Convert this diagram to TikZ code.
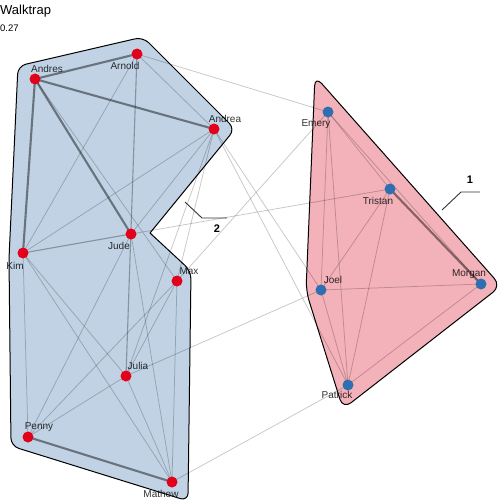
\documentclass[tikz,border=0pt]{standalone}
\usepackage{fontspec}
\setmainfont{Liberation Sans}
\pgfdeclarelayer{hull}
\pgfdeclarelayer{edges}
\pgfsetlayers{hull,edges,main}
\definecolor{hullblue}{RGB}{192,210,228}
\definecolor{hullpink}{RGB}{243,177,185}
\definecolor{vred}{RGB}{227,0,27}
\definecolor{vblue}{RGB}{48,110,178}
\tikzset{
  vtx/.style={circle, fill=#1, draw=none, minimum size=11pt, inner sep=0pt},
  lbl/.style={font=\fontsize{10}{12}\selectfont, text=black, text opacity=0.8, inner sep=0pt},
  thickedge/.style={line width=2.1pt, draw=black, draw opacity=0.45},
  medge/.style={line width=1.1pt, draw=black, draw opacity=0.3},
  tedge/.style={line width=0.75pt, draw=black, draw opacity=0.22},
  hullline/.style={draw=black, line width=1pt, line join=round},
  leader/.style={draw=black!80, line width=0.9pt},
  callout/.style={font=\bfseries\fontsize{11}{13}\selectfont, inner sep=0pt}
}
\begin{document}
\begin{tikzpicture}[x=1pt,y=-1pt]
\useasboundingbox (0,0) rectangle (504,504);
% title
\node[anchor=west, font=\fontsize{13}{15}\selectfont, inner sep=0pt] (title) at (0,11) {Walktrap};
\node[anchor=west, font=\fontsize{9.5}{11}\selectfont, inner sep=0pt] (sub) at (0,28) {0.27};
% vertices
\node[vtx=vred] (andres) at (35,79) {};
\node[vtx=vred] (arnold) at (137,54) {};
\node[vtx=vred] (andrea) at (214,129) {};
\node[vtx=vred] (jude) at (131,234) {};
\node[vtx=vred] (kim) at (23,253) {};
\node[vtx=vred] (max) at (177,281) {};
\node[vtx=vred] (julia) at (126,376) {};
\node[vtx=vred] (penny) at (28,437) {};
\node[vtx=vred] (mathew) at (172,482) {};
\node[vtx=vblue] (emery) at (328,112) {};
\node[vtx=vblue] (tristan) at (390,189) {};
\node[vtx=vblue] (joel) at (321,290) {};
\node[vtx=vblue] (morgan) at (481,284) {};
\node[vtx=vblue] (patrick) at (348,385) {};
% labels
\node[lbl] (Landres) at (47,69) {Andres};
\node[lbl] (Larnold) at (125,66) {Arnold};
\node[lbl] (Landrea) at (225,119) {Andrea};
\node[lbl] (Ljude) at (119,246) {Jude};
\node[lbl] (Lkim) at (15,266) {Kim};
\node[lbl] (Lmax) at (189,271) {Max};
\node[lbl] (Ljulia) at (138,366) {Julia};
\node[lbl] (Lpenny) at (39,427) {Penny};
\node[lbl] (Lmathew) at (161,494) {Mathew};
\node[lbl] (Lemery) at (316,124) {Emery};
\node[lbl] (Ltristan) at (378,201) {Tristan};
\node[lbl] (Ljoel) at (333,280) {Joel};
\node[lbl] (Lmorgan) at (469,274) {Morgan};
\node[lbl] (Lpatrick) at (337,395) {Patrick};
% callouts
\node[callout] (c1) at (470,180) {1};
\coordinate (c1a) at (442,210);
\coordinate (c1b) at (461,192);
\coordinate (c1c) at (480,192);
\draw[leader] (c1a) -- (c1b) -- (c1c);
\node[callout] (c2) at (217,229) {2};
\coordinate (c2a) at (185,202);
\coordinate (c2b) at (202,218);
\coordinate (c2c) at (227,218);
\draw[leader] (c2a) -- (c2b) -- (c2c);
% hulls
\begin{pgfonlayer}{hull}
\draw[hullline, fill=hullblue, rounded corners=8pt]
  (18,66) -- (143,37) -- (235,129) [sharp corners] -- (150,233) [rounded corners=8pt] -- (191,271) -- (188,501) -- (11,446) -- (9,258) -- cycle;
\draw[hullline, fill=hullpink, rounded corners=10pt]
  (315,76) -- (501,286) -- (343,409) -- (306,291) -- cycle;
\end{pgfonlayer}
% edges
\begin{pgfonlayer}{edges}
\draw[tedge] (andres.center) -- (max.center);
\draw[tedge] (arnold.center) -- (kim.center);
\draw[tedge] (arnold.center) -- (andrea.center);
\draw[tedge] (kim.center) -- (andrea.center);
\draw[tedge] (jude.center) -- (andrea.center);
\draw[tedge] (andrea.center) -- (max.center);
\draw[tedge] (andrea.center) -- (julia.center);
\draw[tedge] (kim.center) -- (penny.center);
\draw[tedge] (kim.center) -- (mathew.center);
\draw[tedge] (kim.center) -- (julia.center);
\draw[tedge] (penny.center) -- (jude.center);
\draw[tedge] (penny.center) -- (max.center);
\draw[tedge] (penny.center) -- (julia.center);
\draw[tedge] (julia.center) -- (max.center);
\draw[tedge] (julia.center) -- (mathew.center);
\draw[tedge] (jude.center) -- (mathew.center);
\draw[tedge] (max.center) -- (mathew.center);
\draw[tedge] (emery.center) -- (tristan.center);
\draw[tedge] (emery.center) -- (morgan.center);
\draw[tedge] (emery.center) -- (joel.center);
\draw[tedge] (emery.center) -- (patrick.center);
\draw[tedge] (tristan.center) -- (joel.center);
\draw[tedge] (tristan.center) -- (patrick.center);
\draw[tedge] (joel.center) -- (morgan.center);
\draw[tedge] (joel.center) -- (patrick.center);
\draw[tedge] (morgan.center) -- (patrick.center);
\draw[tedge] (arnold.center) -- (emery.center);
\draw[tedge] (emery.center) -- (max.center);
\draw[tedge] (jude.center) -- (tristan.center);
\draw[tedge] (andrea.center) -- (joel.center);
\draw[tedge] (andrea.center) -- (patrick.center);
\draw[tedge] (julia.center) -- (joel.center);
\draw[tedge] (mathew.center) -- (patrick.center);
\draw[medge] (arnold.center) -- (julia.center);
\draw[medge] (kim.center) -- (jude.center);
\draw[thickedge] (andres.center) -- (arnold.center);
\draw[thickedge] (andres.center) -- (andrea.center);
\draw[thickedge] (andres.center) -- (kim.center);
\draw[thickedge] (andres.center) -- (jude.center);
\draw[thickedge] (penny.center) -- (mathew.center);
\draw[thickedge] (tristan.center) -- (morgan.center);
\end{pgfonlayer}
\end{tikzpicture}
\end{document}
